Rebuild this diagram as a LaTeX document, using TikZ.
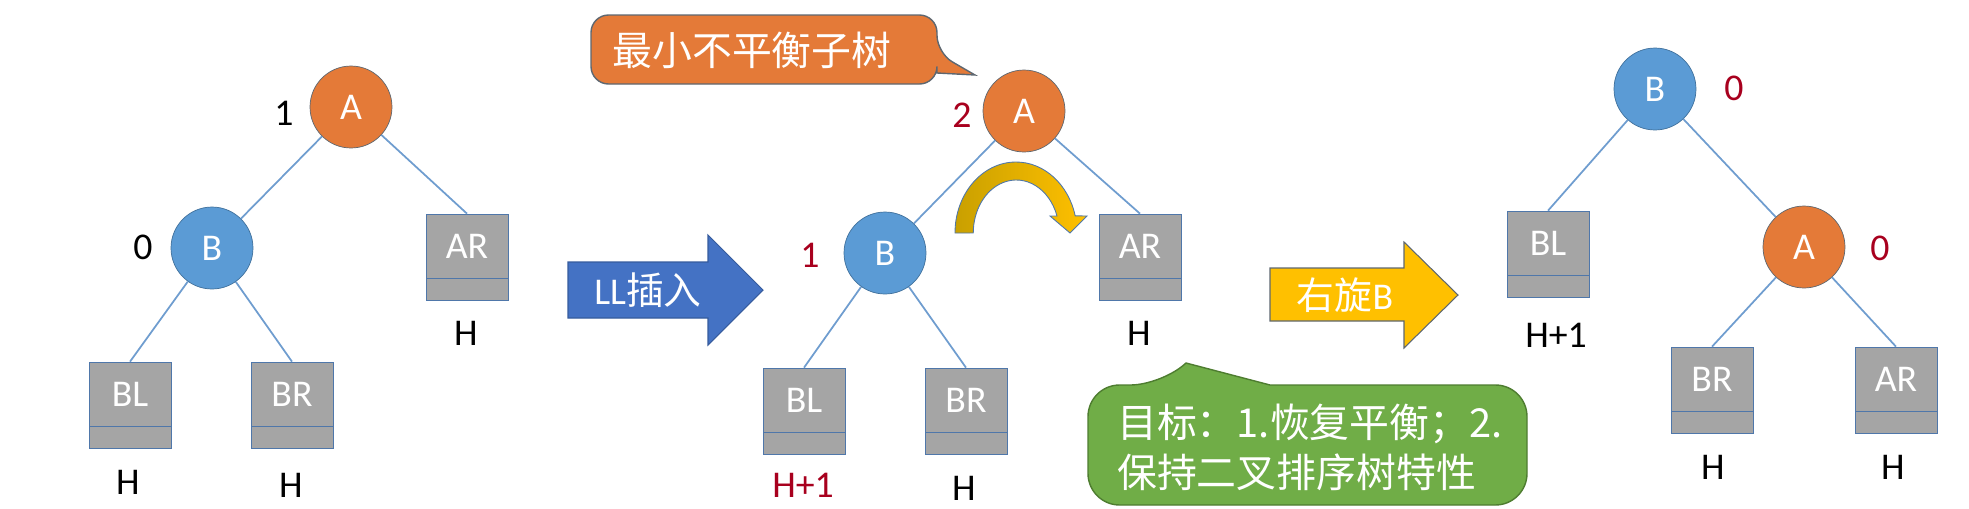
\documentclass[tikz,border=0pt]{standalone}
\usepackage{fontspec}
\setmainfont{Carlito}
\newfontfamily\cjk{Noto Sans CJK SC}
\usetikzlibrary{calc}

\definecolor{treeline}{HTML}{6F9DCF}
\definecolor{nodeorange}{HTML}{E47A38}
\definecolor{nodeblue}{HTML}{5B9BD5}
\definecolor{ringblue}{HTML}{41719C}
\definecolor{ringgray}{HTML}{5E6770}
\definecolor{boxgray}{HTML}{A5A5A5}
\definecolor{boxline}{HTML}{4F77AA}
\definecolor{bfred}{HTML}{A8001E}
\definecolor{arrowblue}{HTML}{4472C4}
\definecolor{arrowyellow}{HTML}{FFC000}
\definecolor{golddark}{HTML}{C9A000}
\definecolor{calloutgreen}{HTML}{70AD47}
\definecolor{greenline}{HTML}{4E7D30}

\newcommand{\treefont}{\fontsize{21.5pt}{26pt}\selectfont}
\newcommand{\notefont}{\fontsize{22.7pt}{28.35pt}\selectfont\cjk}

\tikzset{
  orangenode/.style={circle, draw=ringgray, fill=nodeorange, text=white,
    minimum size=1.64cm, inner sep=0pt},
  bluenode/.style={circle, draw=ringblue, fill=nodeblue, text=white,
    minimum size=1.64cm, inner sep=0pt},
  subtree/.style={rectangle, draw=boxline, fill=boxgray, text=white,
    minimum width=1.64cm, minimum height=1.72cm, inner sep=0pt,
    text height=0.5cm, text depth=0.44cm,
    path picture={\draw[boxline] ([yshift=0.44cm]path picture bounding box.south west)
      -- ([yshift=0.44cm]path picture bounding box.south east);}},
  edge/.style={draw=treeline, line width=1pt},
  bf/.style={inner sep=0pt},
  redbf/.style={inner sep=0pt, text=bfred},
}

\begin{document}
\begin{tikzpicture}[x=0.02cm, y=-0.02cm, every node/.append style={font=\treefont}]
\useasboundingbox (0,0) rectangle (1969,508);

% tree before insertion
\node[orangenode] (lA) at (351,107) {A};
\node[bluenode] (lB) at (212,248) {B};
\node[subtree] (lAR) at (467,257) {AR};
\node[subtree] (lBL) at (130,405) {BL};
\node[subtree] (lBR) at (292,405) {BR};
\node[bf] (lAbf) at (284,113) {1};
\node[bf] (lBbf) at (143,247) {0};
\node[bf] (lARh) at (466,333) {H};
\node[bf] (lBLh) at (128,482) {H};
\node[bf] (lBRh) at (291,485) {H};
\draw[edge] (lA) -- (lB);
\draw[edge] (lA) -- (lAR.north);
\draw[edge] (lB) -- (lBL.north);
\draw[edge] (lB) -- (lBR.north);

% LL insertion arrow
\filldraw[fill=arrowblue, draw=arrowblue!80!black, line width=0.6pt]
  (568,262) -- (708,262) -- (708,235) -- (763,290) -- (708,345) -- (708,318) -- (568,318) -- cycle;
\node[text=white] (tInsert) at (648,290) {LL{\cjk 插入}};

% unbalanced tree
\node[orangenode] (mA) at (1024,111) {A};
\node[bluenode] (mB) at (885,253) {B};
\node[subtree] (mAR) at (1140,257) {AR};
\node[subtree] (mBL) at (804,411) {BL};
\node[subtree] (mBR) at (966,411) {BR};
\node[redbf] (mAbf) at (962,115) {2};
\node[redbf] (mBbf) at (810,255) {1};
\node[bf] (mARh) at (1139,333) {H};
\node[redbf] (mBLh) at (803,485) {H+1};
\node[bf] (mBRh) at (964,488) {H};
\draw[edge] (mA) -- (mB);
\draw[edge] (mA) -- (mAR.north);
\draw[edge] (mB) -- (mBL.north);
\draw[edge] (mB) -- (mBR.north);

% rotation hint
\shadedraw[left color=golddark, right color=arrowyellow, draw=boxline, line width=0.5pt]
  (955,233) arc[start angle=180, end angle=346, x radius=61, y radius=71]
  -- (1087,216) -- (1070,233) -- (1050,216) -- (1057,216)
  arc[start angle=341.3, end angle=180, x radius=43, y radius=53] -- cycle;

% callouts
\filldraw[fill=nodeorange, draw=ringgray, line width=0.8pt]
  (760,15) [rounded corners=10] -- (937,15) -- (937,53) [sharp corners] -- (975,75)
  -- (937,73) [rounded corners=10] -- (937,84) -- (591,84) -- (591,15) -- cycle;
\node[text=white, font=\notefont] (tSubtree) at (752,50) {最小不平衡子树};

\filldraw[fill=calloutgreen, draw=greenline, line width=0.8pt]
  (1350,385) [rounded corners=18] -- (1527,385) -- (1527,505) -- (1088,505)
  -- (1088,385) -- (1162,385) [sharp corners] -- (1186,363) -- (1270,385) -- cycle;
\node[text=white, font=\notefont, align=left, anchor=west] (tGoal) at (1111,447)
  {目标：1.恢复平衡；2.\\保持二叉排序树特性};

% right rotation arrow
\filldraw[fill=arrowyellow, draw=ringgray, line width=0.6pt]
  (1270,268) -- (1404,268) -- (1404,242) -- (1458,295) -- (1404,348) -- (1404,321) -- (1270,321) -- cycle;
\node[text=white] (tRotate) at (1345,295) {{\cjk 右旋}B};

% balanced tree
\node[bluenode] (rB) at (1655,89) {B};
\node[orangenode] (rA) at (1804,247) {A};
\node[subtree] (rBL) at (1548,254) {BL};
\node[subtree] (rBR) at (1712,390) {BR};
\node[subtree] (rAR) at (1896,390) {AR};
\node[redbf] (rBbf) at (1734,88) {0};
\node[redbf] (rAbf) at (1880,248) {0};
\node[bf] (rBLh) at (1556,335) {H+1};
\node[bf] (rBRh) at (1713,467) {H};
\node[bf] (rARh) at (1893,467) {H};
\draw[edge] (rB) -- (rBL.north);
\draw[edge] (rB) -- (rA);
\draw[edge] (rA) -- (rBR.north);
\draw[edge] (rA) -- (rAR.north);
\end{tikzpicture}
\end{document}
